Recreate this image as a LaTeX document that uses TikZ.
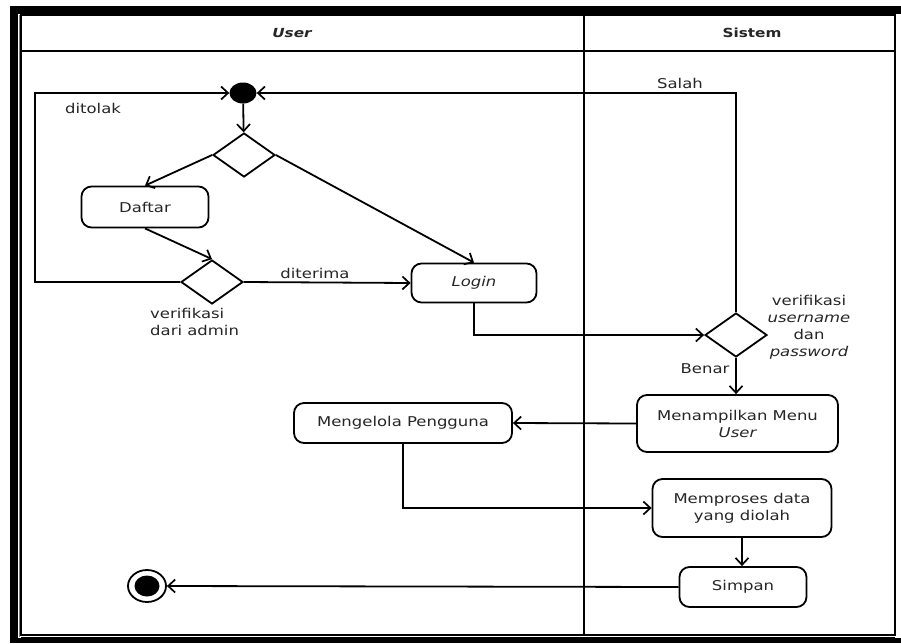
\documentclass[tikz,border=0pt]{standalone}
\usepackage{fontspec}
\setmainfont{DejaVu Sans}[FakeStretch=1.22]
\usetikzlibrary{shapes.geometric,arrows.meta}
\begin{document}
\begin{tikzpicture}[x=1pt,y=-1pt,
  lw/.style={line width=1.8pt},
  act/.style={draw, lw, rounded corners=10pt, align=center, text=black!85,
    font=\fontsize{13.5}{17}\selectfont, inner sep=0pt},
  dec/.style={draw, lw, diamond, minimum width=62pt, minimum height=44pt, inner sep=0pt},
  flow/.style={lw, -{Straight Barb[length=7pt,width=13pt,line width=1.7pt]}},
  lbl/.style={font=\fontsize{13.5}{17}\selectfont, text=black!85, inner sep=0pt},
  hdr/.style={font=\fontsize{12.5}{14}\selectfont\bfseries, text=black!85, inner sep=0pt},
  frame/.style={fill=black},
]
\useasboundingbox (0,0) rectangle (901,643);
% outer black frame
\fill[frame] (10,6) rectangle (901,14);
\fill[frame] (10,6) rectangle (18,643);
\fill[frame] (10,638) rectangle (901,643);
\draw[black!50, line width=0.8pt] (19.5,15) -- (19.5,637);
% swimlane box
\draw[line width=1.5pt] (21,15) rectangle (895,635);
\draw[line width=1pt] (21,637) -- (895,637);
\draw[line width=1.8pt] (21,51) -- (895,51);
\draw[line width=1.8pt] (584,15) -- (584,635);
\node[hdr] (hUser) at (292,33) {\itshape User};
\node[hdr] (hSistem) at (752,33) {Sistem};

% nodes
\node[ellipse, fill, minimum width=27pt, minimum height=21pt, inner sep=0pt] (init) at (243,93) {};
\node[dec] (d1) at (244,155) {};
\node[act, minimum width=127pt, minimum height=41pt] (daftar) at (145,207) {Daftar};
\node[dec] (d2) at (212,282) {};
\node[act, minimum width=125pt, minimum height=39pt] (login) at (474,283) {\itshape Login};
\node[dec] (d3) at (736,335) {};
\node[act, minimum width=201pt, minimum height=57pt] (menu) at (737.5,423.5) {Menampilkan Menu\\\itshape User};
\node[act, minimum width=218pt, minimum height=40pt] (kelola) at (403,423) {Mengelola Pengguna};
\node[act, minimum width=179pt, minimum height=58pt] (proses) at (742,508) {Memproses data\\yang diolah};
\node[act, minimum width=127pt, minimum height=40pt] (simpan) at (743,587) {Simpan};
\node[ellipse, draw, lw, minimum width=38pt, minimum height=32pt, inner sep=0pt] (fin) at (147,586) {};
\node[ellipse, fill, minimum width=25pt, minimum height=21pt, inner sep=0pt] (finin) at (fin) {};

% labels
\node[lbl] (lDitolak) at (93,108) {ditolak};
\node[lbl] (lDiterima) at (315,273) {diterima};
\node[lbl, anchor=west, align=left] (lAdmin) at (150,321.5) {verifikasi\\dari admin};
\node[lbl] (lSalah) at (680,83) {Salah};
\node[lbl] (lBenar) at (705,369) {Benar};
\node[lbl, align=center] (lVerif) at (809,327.5) {verifikasi\\\itshape username\\dan\\\itshape password};

% connectors
\coordinate (c1) at (35,282);
\coordinate (c2) at (35,93);
\draw[flow] (init) -- (d1);
\draw[flow] (d1.west) -- (daftar.north);
\draw[flow] (daftar.south) -- (d2.north);
\draw[flow] (d2.east) -- (login.west);
\draw[flow] (d2.west) -- (c1) -- (c2) -- (init.west);
\draw[flow] (d1.east) -- (login.north);
\draw[flow] (login.south) |- (d3.west);
\draw[flow] (d3.north) |- (init.east);
\draw[flow] (d3.south) -- (d3.south |- menu.north);
\draw[flow] (menu.west) -- (kelola.east);
\draw[flow] (kelola.south) |- (proses.west);
\draw[flow] (proses.south) -- (proses.south |- simpan.north);
\draw[flow] (simpan.west) -- (fin.east);
\end{tikzpicture}
\end{document}
